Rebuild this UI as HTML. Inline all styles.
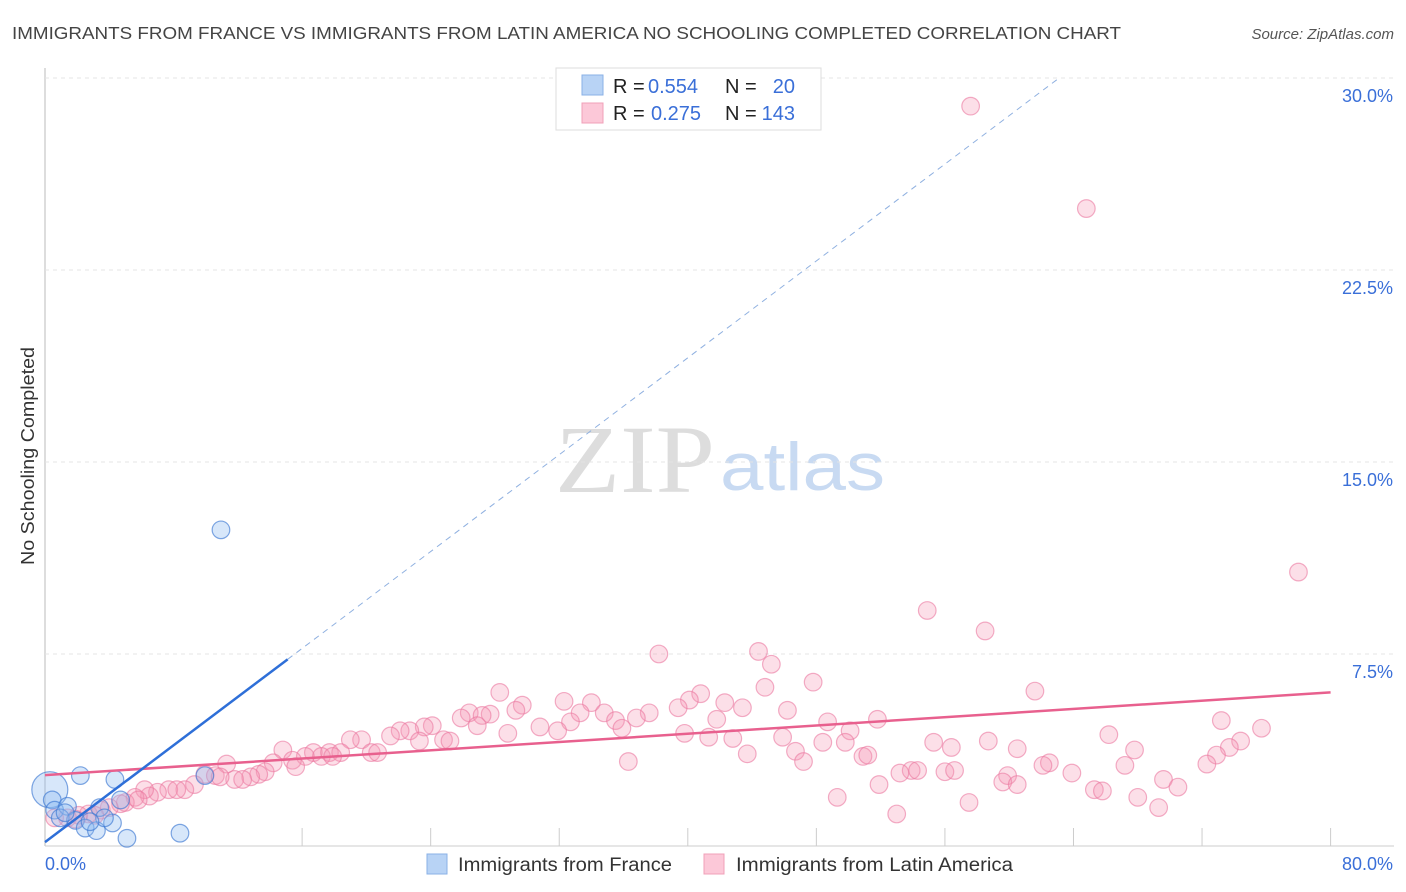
<!DOCTYPE html>
<html><head><meta charset="utf-8"><style>
body{margin:0;background:#fff;font-family:"Liberation Sans",sans-serif;}
svg{display:block}
</style></head><body>
<svg id="c" width="1406" height="892" viewBox="0 0 1406 892">
<text x="12" y="39" font-size="17.5" fill="#444" textLength="1109" lengthAdjust="spacingAndGlyphs">IMMIGRANTS FROM FRANCE VS IMMIGRANTS FROM LATIN AMERICA NO SCHOOLING COMPLETED CORRELATION CHART</text>
<text x="1394" y="39" font-size="15" fill="#555" font-style="italic" text-anchor="end">Source: ZipAtlas.com</text>
<text transform="translate(34,456) rotate(-90)" font-size="18" fill="#333" text-anchor="middle" textLength="218" lengthAdjust="spacingAndGlyphs">No Schooling Completed</text>
<g><text x="555" y="492" font-family="Liberation Serif,serif" font-size="96" fill="#ddd" textLength="160" lengthAdjust="spacingAndGlyphs">ZIP</text><text x="720" y="490" font-size="68" fill="#c8daf2" textLength="165" lengthAdjust="spacingAndGlyphs">atlas</text></g>
<g id="grid"></g><g id="marks"></g>
<g>
<rect x="556" y="68" width="265" height="62" fill="#fff" stroke="#ddd"/>
<rect x="582" y="75" width="21" height="20" fill="#b8d3f5" stroke="#8ab0e6"/>
<rect x="582" y="103" width="21" height="20" fill="#fcc8d8" stroke="#f0a0b8"/>
<g font-size="20">
<text x="613" y="93" fill="#222">R =</text><text x="648" y="93" fill="#3a6fd8">0.554</text>
<text x="725" y="93" fill="#222">N =</text><text x="795" y="93" fill="#3a6fd8" text-anchor="end">20</text>
<text x="613" y="120" fill="#222">R =</text><text x="651" y="120" fill="#3a6fd8">0.275</text>
<text x="725" y="120" fill="#222">N =</text><text x="795" y="120" fill="#3a6fd8" text-anchor="end">143</text>
</g>
</g>
<g>
<rect x="427" y="854" width="20" height="20" fill="#b8d3f5" stroke="#8ab0e6"/>
<text x="458" y="871" font-size="19" fill="#333" textLength="214" lengthAdjust="spacingAndGlyphs">Immigrants from France</text>
<rect x="704" y="854" width="20" height="20" fill="#fcc8d8" stroke="#f0a0b8"/>
<text x="736" y="871" font-size="19" fill="#333" textLength="277" lengthAdjust="spacingAndGlyphs">Immigrants from Latin America</text>
</g>
</svg>
<script>
const yTicks=[7.5,15,22.5,30];
const yTickLabels=["7.5%","15.0%","22.5%","30.0%"];
const xTicks=[16,24,32,40,48,56,64,72,80];
const xLabels=["0.0%","80.0%"];
const franceX=[0.3,0.45,0.6,1.4,1.9,0.95,2.2,2.5,3.2,3.4,4.2,4.35,4.7,5.1,8.4,10.95,9.95,3.7,2.8,1.25];
const franceY=[2.2,1.8,1.4,1.55,1.0,1.1,2.75,0.7,0.6,1.5,0.9,2.6,1.8,0.3,0.5,12.35,2.75,1.1,0.95,1.3];
const latamX=[57.6,64.8,78.0,54.9,58.5,38.2,44.4,45.2,47.8,44.8,61.6,28.3,40.8,40.1,32.3,29.7,34.0,42.3,43.4,29.3,33.3,34.8,37.6,39.4,46.2,26.4,27.7,27.2,25.9,36.8,35.5,51.8,73.2,41.8,48.7,32.7,75.7,35.9,26.9,50.1,30.8,24.1,23.6,22.7,22.1,28.8,31.9,39.8,66.2,21.5,19.7,19.0,23.3,24.8,25.2,45.9,41.3,42.8,48.4,49.8,55.3,58.7,56.4,74.4,73.7,60.5,67.8,14.8,16.7,17.7,17.2,18.4,20.3,20.7,46.7,16.2,17.9,72.9,15.4,14.2,15.6,50.9,51.2,43.7,36.3,47.2,62.5,67.2,62.1,72.3,11.3,53.9,54.3,53.2,56.0,56.6,63.9,59.9,9.95,13.7,13.3,12.8,10.6,11.8,12.3,10.9,9.3,8.7,69.6,59.6,60.5,51.9,70.5,65.3,65.8,7.7,8.2,7.0,6.5,6.2,5.6,5.0,4.7,4.0,3.5,2.7,2.1,1.4,0.6,49.3,57.5,68.0,69.3,53.0,1.9,3.1,5.8];
const latamY=[28.9,24.9,10.7,9.2,8.4,7.5,7.6,7.1,6.4,6.2,6.05,6.0,5.95,5.7,5.65,5.5,5.6,5.6,5.4,5.3,5.2,5.2,5.2,5.4,5.3,5.2,5.15,5.1,5.0,5.0,4.9,4.95,4.9,4.95,4.85,4.85,4.6,4.6,4.7,4.5,4.65,4.7,4.65,4.5,4.5,4.4,4.5,4.4,4.35,4.3,4.15,4.15,4.1,4.15,4.1,4.25,4.25,4.2,4.05,4.05,4.05,4.1,3.85,4.1,3.85,3.8,3.75,3.75,3.65,3.65,3.5,3.65,3.65,3.65,3.7,3.5,3.5,3.55,3.35,3.25,3.1,3.5,3.55,3.6,3.3,3.3,3.25,3.15,3.15,3.2,3.2,2.95,2.95,2.85,2.9,2.95,2.85,2.75,2.8,2.9,2.8,2.7,2.75,2.6,2.6,2.7,2.4,2.2,2.6,2.5,2.4,2.4,2.3,2.2,2.15,2.2,2.2,2.1,1.95,2.2,1.9,1.7,1.65,1.5,1.4,1.25,1.2,1.1,1.1,1.9,1.7,1.9,1.5,1.25,1.05,1.2,1.8];
const latamFit=[2.77,6.0];
const franceFit=[0.15,0.473];
const X=v=>45+v*16.07, Y=v=>846-v*25.6;
const NS="http://www.w3.org/2000/svg";
function mk(tag,attrs,parent){const e=document.createElementNS(NS,tag);for(const k in attrs)e.setAttribute(k,attrs[k]);parent.appendChild(e);return e;}
const g=document.getElementById('grid'), m=document.getElementById('marks');
let e=mk('line',{x1:45,y1:68,x2:45,y2:846,stroke:'#bbb'},g);


e=mk('line',{x1:45,y1:846,x2:1394,y2:846,stroke:'#ccc'},g);


yTicks.forEach((t,i)=>{
 e=mk('line',{x1:45,y1:Y(t),x2:1394,y2:Y(t),stroke:'#e4e4e4','stroke-dasharray':'4,4'},g);
 
 
 e=mk('text',{x:1393,y:Y(t)+24,'font-size':18,fill:'#3a6fd8','text-anchor':'end'},g);
 e.textContent=yTickLabels[i];
 
 
});
xTicks.forEach(t=>{
 e=mk('line',{x1:X(t),y1:828,x2:X(t),y2:846,stroke:'#ccc'},g);
 
 
});
e=mk('text',{x:45,y:870,'font-size':18,fill:'#3a6fd8'},g);e.textContent=xLabels[0];


e=mk('text',{x:1393,y:870,'font-size':18,fill:'#3a6fd8','text-anchor':'end'},g);e.textContent=xLabels[1];


latamX.forEach((x,i)=>{
 e=mk('circle',{cx:X(x),cy:Y(latamY[i]),r:8.8,fill:'rgba(245,150,180,0.3)',stroke:'rgba(235,120,160,0.6)','stroke-width':1.2},m);
 
 
});
franceX.forEach((x,i)=>{
 e=mk('circle',{cx:X(x),cy:Y(franceY[i]),r:i===0?18:8.8,fill:'rgba(140,185,240,0.35)',stroke:'rgba(60,120,210,0.65)','stroke-width':1.2},m);
 
 
});
e=mk('line',{x1:X(0),y1:Y(latamFit[0]),x2:X(80),y2:Y(latamFit[1]),stroke:'#e8608e','stroke-width':2.5},m);


const fy=x=>franceFit[0]+franceFit[1]*x;
e=mk('line',{x1:X(0),y1:Y(fy(0)),x2:X(15.1),y2:Y(fy(15.1)),stroke:'#2e6fd8','stroke-width':2.5},m);


const xe=(30-franceFit[0])/franceFit[1];
e=mk('line',{x1:X(15.1),y1:Y(fy(15.1)),x2:X(xe),y2:Y(30),stroke:'#8fb0e0','stroke-width':1,'stroke-dasharray':'6,5'},m);


</script>
</body></html>
